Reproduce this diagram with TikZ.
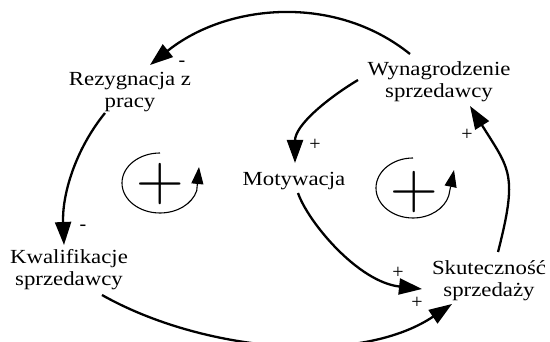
\documentclass[tikz,border=0pt]{standalone}
\usepackage{fontspec}
\setmainfont{Liberation Serif}
\newfontfamily\lmplus{Latin Modern Roman}
\usetikzlibrary{arrows.meta}
\newcommand\hwide[1]{\scalebox{1.14}[1]{#1}}
\begin{document}
\begin{tikzpicture}[x=1pt,y=-1pt,
  lbl/.style={font=\fontsize{20}{22}\selectfont, align=center, inner sep=4pt},
  sgn/.style={font=\fontsize{20}{22}\selectfont, inner sep=0pt},
  link/.style={line width=2.3pt, -{Triangle[length=23pt,width=16pt]}},
  loopsym/.style={line width=1.1pt, -{Triangle[length=17pt,width=12pt]}},
  bigplus/.style={font=\lmplus\fontsize{66}{66}\selectfont, inner sep=0pt}]
\useasboundingbox (0,0) rectangle (550,342);

% variables
\node[lbl] (wyn)  at (439,82)  {\hwide{Wynagrodzenie}\\\hwide{sprzedawcy}};
\node[lbl] (rez)  at (130,92)  {\hwide{Rezygnacja z}\\\hwide{pracy}};
\node[lbl] (mot)  at (294,181) {\hwide{Motywacja}};
\node[lbl] (kwal) at (69,270)  {\hwide{Kwalifikacje}\\\hwide{sprzedawcy}};
\node[lbl] (skut) at (489,281) {\hwide{Skuteczność}\\\hwide{sprzedaży}};

% causal links
\draw[link] ([shift={(-29,-28)}]wyn.center) .. controls (334,-7) and (226,4) .. ([shift={(20,-27)}]rez.center);
\draw[link] ([shift={(-81,-2)}]wyn.center) .. controls (328,98) and (295,125) .. ([shift={(1,-18)}]mot.center);
\draw[link] ([shift={(-25,21)}]rez.center) .. controls (75,150) and (62,195) .. ([shift={(-5,-25)}]kwal.center);
\draw[link] ([shift={(4,12)}]mot.center) .. controls (308,222) and (358,282) .. ([shift={(-67,8)}]skut.center);
\draw[link] ([shift={(33,25)}]kwal.center) .. controls (201,351) and (358,367) .. ([shift={(-37,23)}]skut.center);
\draw[link] ([shift={(9,-29)}]skut.center) .. controls (518,174) and (510,170) .. ([shift={(31,24)}]wyn.center);

% polarity signs
\node[sgn] (s1) at (182,64)  {-};
\node[sgn] (s2) at (315,145) {+};
\node[sgn] (s3) at (83,228)  {-};
\node[sgn] (s4) at (398,273) {+};
\node[sgn] (s5) at (417,303) {+};
\node[sgn] (s6) at (467,135) {+};

% loop symbols
\draw[loopsym] (160,153) arc[start angle=90, end angle=345, x radius=38pt, y radius=30pt] -- (199,167);
\node[bigplus] (l1) at (160,184) {+};
\draw[loopsym] (413,158) arc[start angle=90, end angle=345, x radius=37pt, y radius=30pt] -- (454,170);
\node[bigplus] (l2) at (414,192) {+};
\end{tikzpicture}
\end{document}
